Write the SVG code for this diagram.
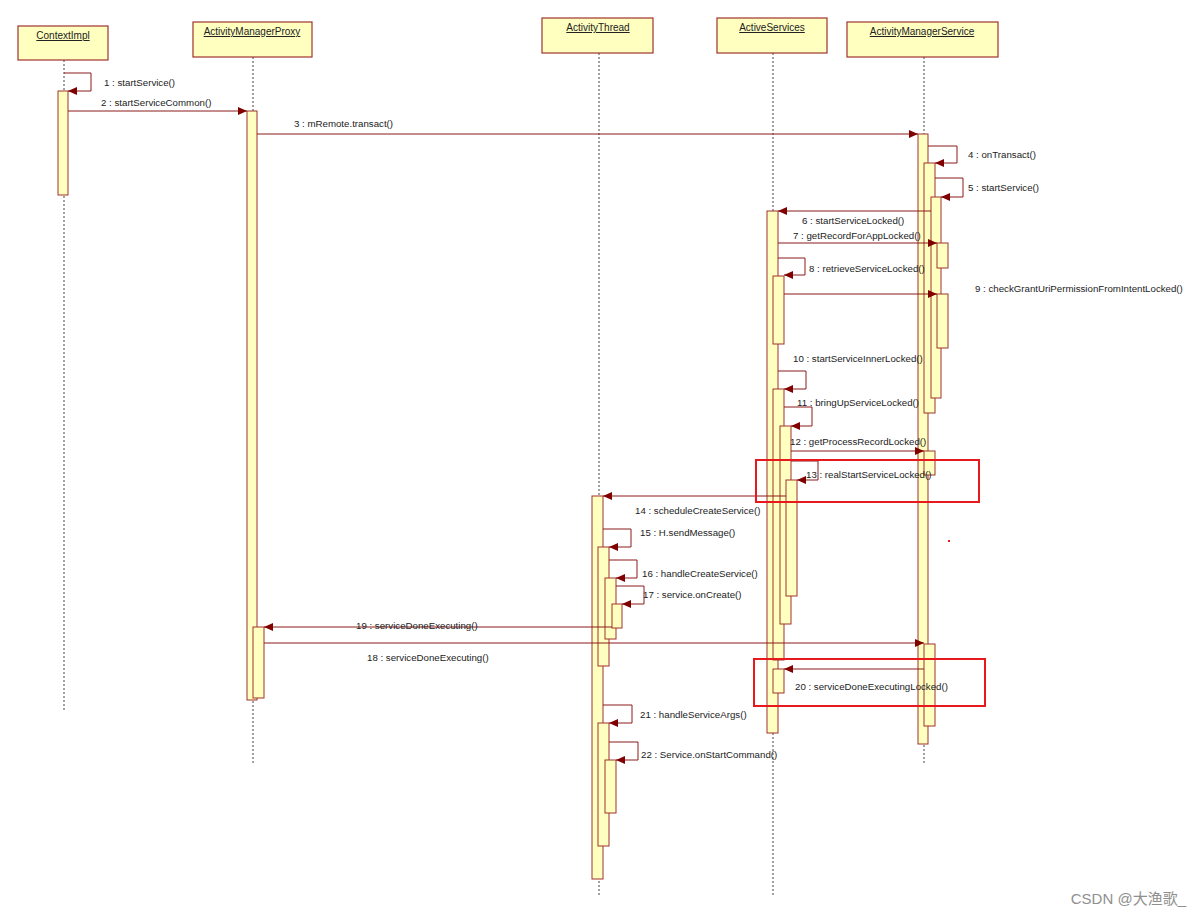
<svg xmlns="http://www.w3.org/2000/svg" width="1200" height="916" viewBox="0 0 1200 916">
<style>
.box{fill:#ffffc0;stroke:#a0322d;stroke-width:1.2}
.bar{fill:#ffffc0;stroke:#a0322d;stroke-width:1}
.life{stroke:#444;stroke-width:1;stroke-dasharray:2,2;fill:none}
.msg{stroke:#8b1a1a;stroke-width:1;fill:none;marker-end:url(#ah)}
.t{font-family:"Liberation Sans",Arial,sans-serif;font-size:9.7px;fill:#222}
.h{font-family:"Liberation Sans",Arial,sans-serif;font-size:10px;fill:#222;text-anchor:middle;text-decoration:underline}
.hl{fill:none;stroke:#e8191c;stroke-width:2}
</style>
<defs>
<marker id="ah" markerUnits="userSpaceOnUse" markerWidth="9" markerHeight="8" refX="9" refY="4" orient="auto"><path d="M0,0 L9,4 L0,8 z" fill="#800000"/></marker>
</defs>
<rect width="1200" height="916" fill="#ffffff"/>
<g id="lifelines">
<line class="life" x1="64" y1="60" x2="64" y2="712"/>
<line class="life" x1="253" y1="57" x2="253" y2="763"/>
<line class="life" x1="599" y1="53" x2="599" y2="897"/>
<line class="life" x1="773" y1="53" x2="773" y2="897"/>
<line class="life" x1="924" y1="57" x2="924" y2="763"/>
</g>
<g id="ContextImpl">
<rect class="box" x="18" y="26" width="90" height="34"/>
<text class="h" x="63" y="39">ContextImpl</text>
<rect class="bar" x="58" y="91" width="10" height="104"/>
</g>
<g id="ActivityManagerProxy">
<rect class="box" x="193" y="22" width="119" height="35"/>
<text class="h" x="252" y="35">ActivityManagerProxy</text>
<rect class="bar" x="247" y="111" width="10" height="589"/>
<rect class="bar" x="253" y="627" width="11" height="71"/>
</g>
<g id="ActivityThread">
<rect class="box" x="542" y="18" width="111" height="35"/>
<text class="h" x="598" y="31">ActivityThread</text>
<rect class="bar" x="592" y="496" width="11" height="383"/>
<rect class="bar" x="598" y="547" width="11" height="119"/>
<rect class="bar" x="605" y="578" width="11" height="61"/>
<rect class="bar" x="612" y="604" width="10" height="24"/>
<rect class="bar" x="598" y="723" width="11" height="123"/>
<rect class="bar" x="605" y="760" width="11" height="53"/>
</g>
<g id="ActiveServices">
<rect class="box" x="717" y="18" width="110" height="35"/>
<text class="h" x="772" y="31">ActiveServices</text>
<rect class="bar" x="767" y="211" width="11" height="522"/>
<rect class="bar" x="773" y="276" width="11" height="68"/>
<rect class="bar" x="773" y="389" width="11" height="271"/>
<rect class="bar" x="780" y="426" width="11" height="198"/>
<rect class="bar" x="786" y="480" width="11" height="116"/>
<rect class="bar" x="773" y="669" width="11" height="24"/>
</g>
<g id="ActivityManagerService">
<rect class="box" x="847" y="22" width="151" height="35"/>
<text class="h" x="922" y="35">ActivityManagerService</text>
<rect class="bar" x="918" y="134" width="10" height="610"/>
<rect class="bar" x="924" y="163" width="11" height="250"/>
<rect class="bar" x="931" y="197" width="10" height="201"/>
<rect class="bar" x="937" y="243" width="11" height="25"/>
<rect class="bar" x="937" y="294" width="11" height="54"/>
<rect class="bar" x="924" y="451" width="11" height="24"/>
<rect class="bar" x="924" y="644" width="11" height="82"/>
</g>
<g id="connectors">
<path class="msg" d="M64,73 H91 V91 H68"/>
<path class="msg" d="M68,111 H247"/>
<path class="msg" d="M257,134 H918"/>
<path class="msg" d="M928,146 H957 V163 H935"/>
<path class="msg" d="M935,178 H963 V197 H941"/>
<path class="msg" d="M931,211 H778"/>
<path class="msg" d="M778,243 H937"/>
<path class="msg" d="M778,258 H805 V275 H784"/>
<path class="msg" d="M784,294 H937"/>
<path class="msg" d="M778,371 H806 V389 H784"/>
<path class="msg" d="M784,407 H812 V426 H791"/>
<path class="msg" d="M791,451 H924"/>
<path class="msg" d="M791,461 H818 V480 H797"/>
<path class="msg" d="M786,496 H603"/>
<path class="msg" d="M603,529 H631 V547 H609"/>
<path class="msg" d="M609,560 H637 V578 H616"/>
<path class="msg" d="M616,586 H644 V604 H622"/>
<path class="msg" d="M612,627 H264"/>
<path class="msg" d="M264,643 H924"/>
<path class="msg" d="M924,669 H784"/>
<path class="msg" d="M603,705 H632 V723 H609"/>
<path class="msg" d="M609,742 H638 V760 H616"/>
</g>
<g id="labels">
<text class="t" x="104" y="86">1 : startService()</text>
<text class="t" x="101" y="106">2 : startServiceCommon()</text>
<text class="t" x="294" y="127">3 : mRemote.transact()</text>
<text class="t" x="968" y="158">4 : onTransact()</text>
<text class="t" x="968" y="191">5 : startService()</text>
<text class="t" x="802" y="224">6 : startServiceLocked()</text>
<text class="t" x="793" y="239">7 : getRecordForAppLocked()</text>
<text class="t" x="809" y="272">8 : retrieveServiceLocked()</text>
<text class="t" x="975" y="292">9 : checkGrantUriPermissionFromIntentLocked()</text>
<text class="t" x="793" y="362">10 : startServiceInnerLocked()</text>
<text class="t" x="797" y="406">11 : bringUpServiceLocked()</text>
<text class="t" x="790" y="445">12 : getProcessRecordLocked()</text>
<text class="t" x="806" y="478">13 : realStartServiceLocked()</text>
<text class="t" x="635" y="514">14 : scheduleCreateService()</text>
<text class="t" x="640" y="536">15 : H.sendMessage()</text>
<text class="t" x="642" y="577">16 : handleCreateService()</text>
<text class="t" x="643" y="598">17 : service.onCreate()</text>
<text class="t" x="356" y="629">19 : serviceDoneExecuting()</text>
<text class="t" x="367" y="661">18 : serviceDoneExecuting()</text>
<text class="t" x="795" y="690">20 : serviceDoneExecutingLocked()</text>
<text class="t" x="640" y="718">21 : handleServiceArgs()</text>
<text class="t" x="641" y="758">22 : Service.onStartCommand()</text>
</g>
<g id="highlights">
<rect class="hl" x="756" y="460" width="223" height="42"/>
<rect class="hl" x="754" y="659" width="231" height="47"/>
<rect x="948" y="540" width="2" height="2" fill="#e8191c"/>
</g>
<text x="1186" y="904" text-anchor="end" style="font-family:'Liberation Sans','Noto Sans CJK SC',sans-serif;font-size:15px;fill:#8f8f8f">CSDN @大渔歌_</text>
</svg>
